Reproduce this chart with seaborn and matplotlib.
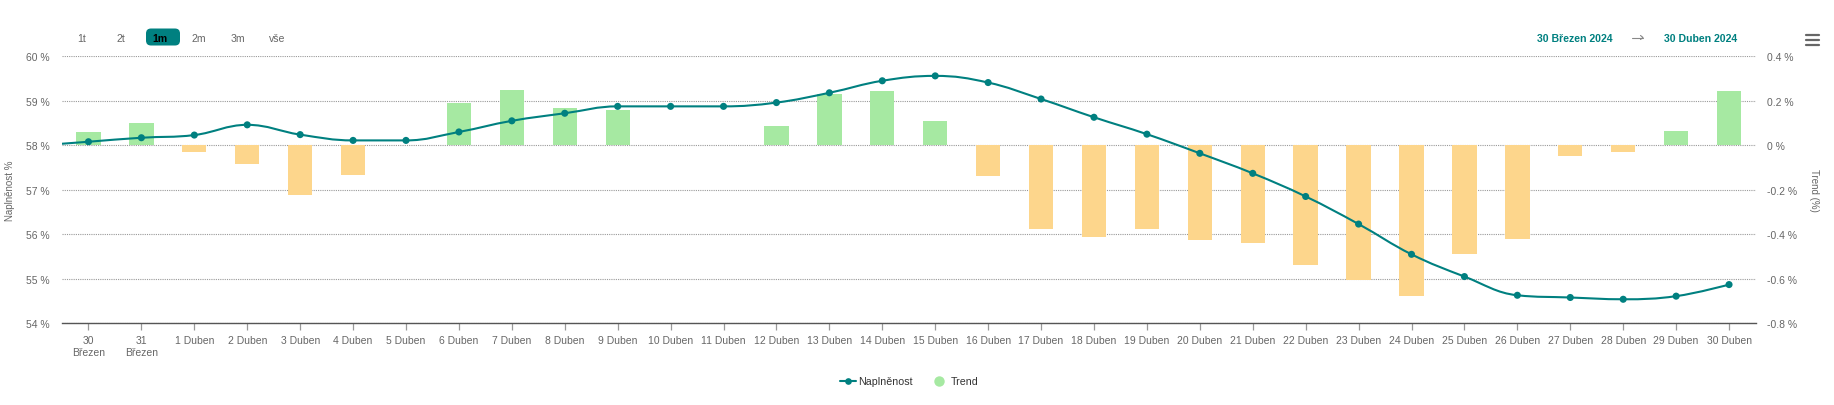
import numpy as np
import pandas as pd
import matplotlib
matplotlib.use("Agg")
import matplotlib.pyplot as plt
import seaborn as sns
from matplotlib.path import Path
from matplotlib.patches import PathPatch, FancyBboxPatch
from matplotlib.lines import Line2D

# ---------------- data ----------------
categories = ["30\nBřezen", "31\nBřezen"] + [f"{d} Duben" for d in range(1, 31)]
fill_pct = [58.08, 58.17, 58.23, 58.46, 58.24, 58.11, 58.11, 58.30, 58.55, 58.72,
            58.875, 58.875, 58.875, 58.96, 59.18, 59.45, 59.56, 59.41, 59.04, 58.63,
            58.25, 57.82, 57.37, 56.85, 56.23, 55.55, 55.05, 54.63, 54.58, 54.54,
            54.61, 54.87]
trend_pct = [0.059, 0.098, -0.030, -0.082, -0.223, -0.133, 0.0, 0.189, 0.247, 0.167,
             0.157, 0.0, 0.0, 0.088, 0.229, 0.245, 0.111, -0.139, -0.377, -0.410,
             -0.377, -0.427, -0.437, -0.539, -0.607, -0.679, -0.488, -0.419, -0.049, -0.028,
             0.066, 0.246]
prev_fill_pct = 57.99   # 29 Březen (just outside the visible range)
left_ticks = [54, 55, 56, 57, 58, 59, 60]
left_tick_labels = ["54 %", "55 %", "56 %", "57 %", "58 %", "59 %", "60 %"]
right_ticks = [-0.8, -0.6, -0.4, -0.2, 0.0, 0.2, 0.4]
right_tick_labels = ["-0.8 %", "-0.6 %", "-0.4 %", "-0.2 %", "0 %", "0.2 %", "0.4 %"]
range_buttons = ["1t", "2t", "1m", "2m", "3m", "vše"]
selected_button = "1m"
date_from = "30 Březen 2024"
date_to = "30 Duben 2024"
series_line = "Naplněnost"
series_bar = "Trend"

# ---------------- style ----------------
W, H = 1834, 406
TEAL = "#008080"
GREEN = "#a6e9a2"
ORANGE = "#fdd68c"
GRAY = "#666666"
FONT = ["Liberation Sans", "DejaVu Sans"]

sns.set_theme(style="white")
plt.rcParams["font.family"] = FONT

fig = plt.figure(figsize=(W / 100, H / 100), dpi=100)
L, R, T, B = 62, 1755.5, 57.3, 324.3
ax = fig.add_axes([L / W, 1 - B / H, (R - L) / W, (B - T) / H])
ax2 = ax.twinx()

# overlay axes in pixel coordinates for chrome (buttons, legend, titles)
ov = fig.add_axes([0, 0, 1, 1], zorder=10)
ov.set_xlim(0, W)
ov.set_ylim(H, 0)
ov.axis("off")
ov.patch.set_visible(False)

# ---------------- bars (secondary axis) ----------------
df = pd.DataFrame({"day": categories, "trend": trend_pct,
                   "sign": ["up" if v >= 0 else "down" for v in trend_pct]})
sns.barplot(data=df, x="day", y="trend", hue="sign", order=categories,
            hue_order=["up", "down"], palette={"up": GREEN, "down": ORANGE},
            dodge=False, width=0.46, saturation=1, legend=False, ax=ax2,
            linewidth=0)
ax2.set_ylim(-0.8, 0.4)
ax2.set_yticks(right_ticks)
ax2.set_yticklabels(right_tick_labels)
ax2.set_xlabel("")
ax2.set_ylabel("")
ax2.set_axisbelow(True)
ax2.yaxis.grid(True, color="#999999", linestyle=(0, (1, 1)), linewidth=0.8)
ax2.xaxis.grid(False)
ax2.tick_params(axis="y", length=0, pad=8.6, labelsize=7.5, labelcolor=GRAY)
for s in ax2.spines.values():
    s.set_visible(False)

# ---------------- line (primary axis) ----------------
ax.set_zorder(ax2.get_zorder() + 1)
ax.patch.set_visible(False)

def spline_path(xs, ys, smoothing=1.5):
    n = len(xs)
    denom = smoothing + 1
    lc = [None] * n
    rc = [None] * n
    for i in range(1, n - 1):
        px, py = xs[i], ys[i]
        lx, ly = xs[i - 1], ys[i - 1]
        nx, ny = xs[i + 1], ys[i + 1]
        lcx = (smoothing * px + lx) / denom
        lcy = (smoothing * py + ly) / denom
        rcx = (smoothing * px + nx) / denom
        rcy = (smoothing * py + ny) / denom
        corr = ((rcy - lcy) * (rcx - px)) / (rcx - lcx) + py - rcy
        lcy += corr
        rcy += corr
        if lcy > ly and lcy > py:
            lcy = max(ly, py); rcy = 2 * py - lcy
        elif lcy < ly and lcy < py:
            lcy = min(ly, py); rcy = 2 * py - lcy
        if rcy > ny and rcy > py:
            rcy = max(ny, py); lcy = 2 * py - rcy
        elif rcy < ny and rcy < py:
            rcy = min(ny, py); lcy = 2 * py - rcy
        lc[i] = (lcx, lcy)
        rc[i] = (rcx, rcy)
    verts = [(xs[0], ys[0])]
    codes = [Path.MOVETO]
    for i in range(1, n):
        c1 = rc[i - 1] if rc[i - 1] is not None else (xs[i - 1], ys[i - 1])
        c2 = lc[i] if lc[i] is not None else (xs[i], ys[i])
        verts += [c1, c2, (xs[i], ys[i])]
        codes += [Path.CURVE4] * 3
    return Path(verts, codes)

pos = np.arange(len(categories))
line_x = np.concatenate([[-1], pos]).astype(float)
line_y = np.concatenate([[prev_fill_pct], fill_pct]).astype(float)
ax.add_patch(PathPatch(spline_path(line_x, line_y), facecolor="none",
                       edgecolor=TEAL, linewidth=1.5, zorder=3, clip_on=True))
sns.scatterplot(x=pos, y=fill_pct, ax=ax, color=TEAL, s=26, edgecolor="none",
                zorder=4, legend=False)

ax.set_xlim(-0.5, len(categories) - 0.5)
ax.set_ylim(54, 60)
ax.set_yticks(left_ticks)
ax.set_yticklabels(left_tick_labels)
ax.set_xticks(pos)
ax.set_xticklabels(categories, linespacing=1.25)
ax.set_xlabel("")
ax.set_ylabel("")
ax.grid(False)
ax.tick_params(axis="y", length=0, pad=8.6, labelsize=7.5, labelcolor=GRAY)
ax.tick_params(axis="x", length=5.3, width=0.9, color="#999999", pad=3,
               labelsize=7.5, labelcolor=GRAY, direction="out", bottom=True)
for name, s in ax.spines.items():
    s.set_visible(name == "bottom")
ax.spines["bottom"].set_color("#555555")
ax.spines["bottom"].set_linewidth(1.0)

# axis titles
ov.text(10, 190.8, "Naplněnost %", rotation=90, ha="center", va="center",
        fontsize=7, color=GRAY)
ov.text(1814, 190.8, "Trend (%)", rotation=270, ha="center", va="center",
        fontsize=7, color=GRAY)

# ---------------- range selector ----------------
btn_x = [81.7, 120.7, 160, 199.3, 238.3, 277.3]
for label, bx in zip(range_buttons, btn_x):
    if label == selected_button:
        ov.add_patch(FancyBboxPatch((146, 29.5), 34, 17,
                                    boxstyle="round,pad=0,rounding_size=5",
                                    facecolor=TEAL, edgecolor="none"))
        ov.text(bx, 38.5, label, ha="center", va="center", fontsize=7.6,
                color="black", fontweight="bold")
    else:
        ov.text(bx, 38.5, label, ha="center", va="center", fontsize=7.6,
                color=GRAY)

ov.text(1575, 38.5, date_from, ha="center", va="center", fontsize=7.6,
        color=TEAL, fontweight="bold")
ov.add_line(Line2D([1632, 1643], [38.5, 38.5], color="#888888", linewidth=0.8))
ov.add_line(Line2D([1640.5, 1643, 1640.5], [36.5, 38.5, 40.5], color="#888888",
                   linewidth=0.8))
ov.text(1701, 38.5, date_to, ha="center", va="center", fontsize=7.6,
        color=TEAL, fontweight="bold")

# menu icon
for yy in (36.3, 41, 45.7):
    ov.add_line(Line2D([1806, 1819], [yy, yy], color=GRAY, linewidth=1.6))

# ---------------- legend ----------------
ly = 381.7
ov.add_line(Line2D([839.5, 856], [ly, ly], color=TEAL, linewidth=1.5))
ov.add_line(Line2D([847.7], [ly], marker="o", markersize=4.8, color=TEAL,
                   markeredgewidth=0, linestyle="none"))
ov.text(858.5, ly, series_line, ha="left", va="center", fontsize=7.7,
        color="#333333")
ov.add_line(Line2D([939.3], [ly], marker="o", markersize=7.5, color=GREEN,
                   markeredgewidth=0, linestyle="none"))
ov.text(951, ly, series_bar, ha="left", va="center", fontsize=7.7,
        color="#333333")

fig.savefig("out.png", dpi=100, facecolor="white")
